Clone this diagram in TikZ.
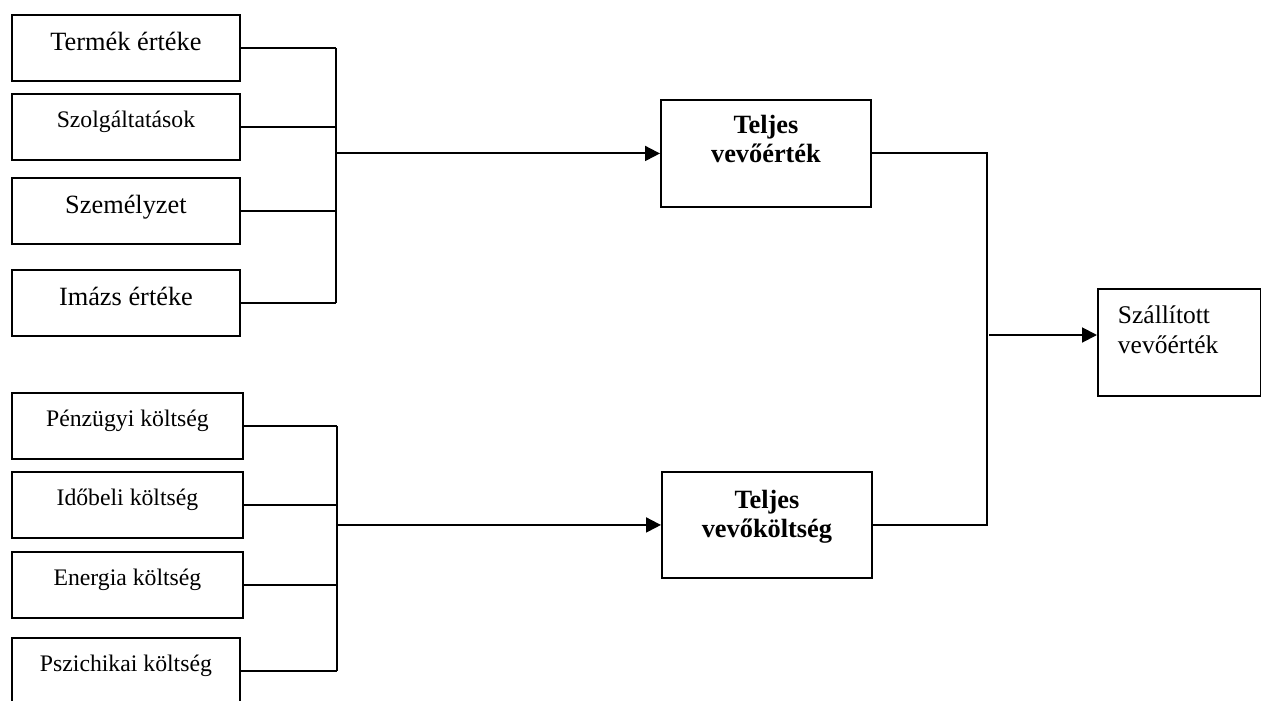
\documentclass[tikz,border=0pt]{standalone}
\usepackage{fontspec}
\setmainfont{Liberation Serif}
\usepackage{tikz}
\usetikzlibrary{arrows.meta,positioning,calc}
\definecolor{LineColor}{RGB}{0,0,0}

\tikzset{
  item/.style={draw=LineColor, line width=1.1pt, anchor=north west, inner xsep=0pt, inner ysep=0pt,
    minimum height=0pt, text height=0.72cm, text depth=0.60cm, font=\fontsize{15}{17}\selectfont},
  itemsmall/.style={item, text height=0.68cm, text depth=0.64cm, font=\fontsize{13.5}{16}\selectfont},
  total/.style={draw=LineColor, line width=1.1pt, anchor=north west, inner xsep=0pt, inner ysep=0pt,
    minimum width=4.2cm, align=center, font=\fontsize{15}{16.5}\selectfont\bfseries},
  link/.style={LineColor, line width=1.1pt},
  arr/.style={link, -{Triangle[length=8.5pt,width=8.5pt]}}
}

\begin{document}
\begin{tikzpicture}[x=0.02cm, y=-0.02cm]
      \useasboundingbox (0,0) rectangle (1261,700);
      % value side
      \node[item, minimum width=4.56cm] (termek) at (11,14) {Termék értéke};
      \node[itemsmall, minimum width=4.56cm] (szolg) at (11,93) {Szolgáltatások};
      \node[item, minimum width=4.56cm] (szemely) at (11,177) {Személyzet};
      \node[item, minimum width=4.56cm] (imazs) at (11,269) {Imázs értéke};
      % cost side
      \node[itemsmall, minimum width=4.62cm] (penz) at (11,392) {Pénzügyi költség};
      \node[itemsmall, minimum width=4.62cm] (ido) at (11,471) {Időbeli költség};
      \node[itemsmall, minimum width=4.62cm] (energia) at (11,551) {Energia költség};
      \node[itemsmall, minimum width=4.56cm] (pszich) at (11,637) {Pszichikai költség};
      % totals
      \node[total, text height=1.25cm, text depth=0.89cm] (ertek) at (660,99) {Teljes\\vevőérték};
      \node[total, text height=1.32cm, text depth=0.80cm] (koltseg) at (661,471) {Teljes\\vevőköltség};
      \node[draw=LineColor, line width=1.1pt, anchor=north west, inner xsep=0.4cm, inner ysep=0pt,
        text width=2.46cm, align=left, text height=0.70cm, text depth=1.44cm,
        font=\fontsize{14.5}{17}\selectfont] (szall) at (1097,288) {Szállított\\vevőérték};

      \coordinate (busA) at (336,0);
      \coordinate (busB) at (337,0);
      \coordinate (busC) at (987,0);
      \coordinate (join) at (989,335);

      \foreach \n in {termek,szolg,szemely,imazs} \draw[link] (\n.east) -- (\n.east -| busA);
      \draw[link] (termek.east -| busA) -- (imazs.east -| busA);
      \draw[arr] (ertek.west -| busA) -- (ertek.west);
      \foreach \n in {penz,ido,energia,pszich} \draw[link] (\n.east) -- (\n.east -| busB);
      \draw[link] (penz.east -| busB) -- (pszich.east -| busB);
      \draw[arr] (koltseg.west -| busB) -- (koltseg.west);

      \draw[link] (ertek.east) -- (ertek.east -| busC) -- (koltseg.east -| busC) -- (koltseg.east);
      \draw[arr] (join) -- (join -| szall.west);
    \end{tikzpicture}
\end{document}
